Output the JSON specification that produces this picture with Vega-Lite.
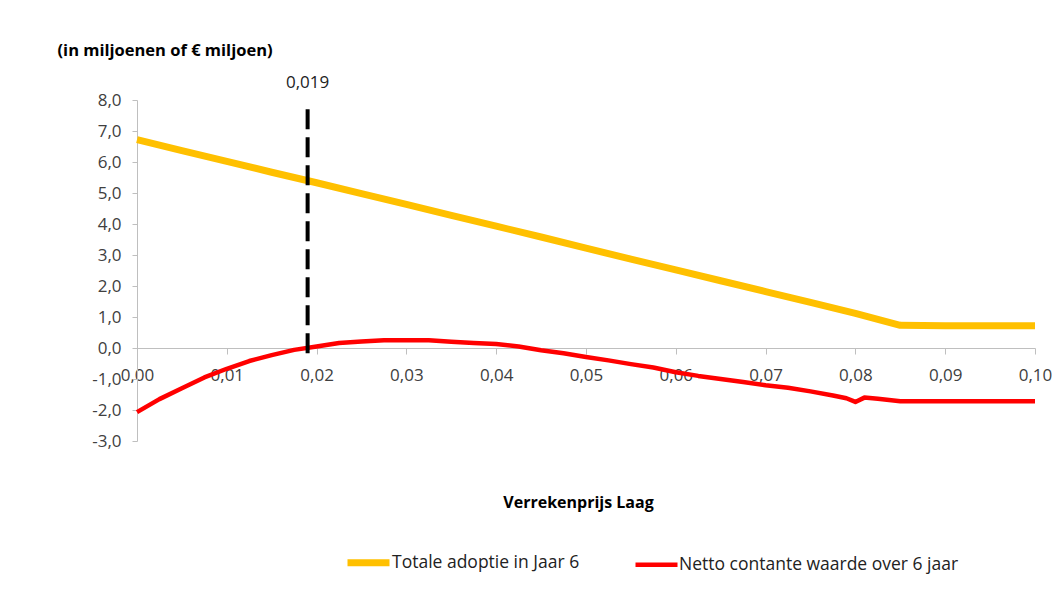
{
  "$schema": "https://vega.github.io/schema/vega-lite/v6.json",
  "width": 898,
  "height": 341,
  "autosize": "none",
  "padding": {"left": 137, "top": 100, "right": 26, "bottom": 155},
  "background": "white",
  "config": {
    "view": {"stroke": null},
    "font": "Open Sans",
    "axis": {"labelFont": "Open Sans", "labelFontSize": 17, "labelColor": "#404040", "domainColor": "#BFBFBF", "tickColor": "#BFBFBF", "grid": false}
  },
  "datasets": {
    "lines": [
      {"x": 0.0, "v": 6.72, "s": "Totale adoptie in Jaar 6"},
      {"x": 0.005, "v": 6.37, "s": "Totale adoptie in Jaar 6"},
      {"x": 0.01, "v": 6.02, "s": "Totale adoptie in Jaar 6"},
      {"x": 0.015, "v": 5.67, "s": "Totale adoptie in Jaar 6"},
      {"x": 0.02, "v": 5.33, "s": "Totale adoptie in Jaar 6"},
      {"x": 0.025, "v": 4.98, "s": "Totale adoptie in Jaar 6"},
      {"x": 0.03, "v": 4.63, "s": "Totale adoptie in Jaar 6"},
      {"x": 0.035, "v": 4.28, "s": "Totale adoptie in Jaar 6"},
      {"x": 0.04, "v": 3.93, "s": "Totale adoptie in Jaar 6"},
      {"x": 0.045, "v": 3.58, "s": "Totale adoptie in Jaar 6"},
      {"x": 0.05, "v": 3.22, "s": "Totale adoptie in Jaar 6"},
      {"x": 0.055, "v": 2.87, "s": "Totale adoptie in Jaar 6"},
      {"x": 0.06, "v": 2.52, "s": "Totale adoptie in Jaar 6"},
      {"x": 0.065, "v": 2.17, "s": "Totale adoptie in Jaar 6"},
      {"x": 0.07, "v": 1.82, "s": "Totale adoptie in Jaar 6"},
      {"x": 0.075, "v": 1.47, "s": "Totale adoptie in Jaar 6"},
      {"x": 0.08, "v": 1.12, "s": "Totale adoptie in Jaar 6"},
      {"x": 0.085, "v": 0.73, "s": "Totale adoptie in Jaar 6"},
      {"x": 0.09, "v": 0.72, "s": "Totale adoptie in Jaar 6"},
      {"x": 0.095, "v": 0.72, "s": "Totale adoptie in Jaar 6"},
      {"x": 0.1, "v": 0.72, "s": "Totale adoptie in Jaar 6"},
      {"x": 0.0, "v": -2.07, "s": "Netto contante waarde over 6 jaar"},
      {"x": 0.0025, "v": -1.65, "s": "Netto contante waarde over 6 jaar"},
      {"x": 0.005, "v": -1.3, "s": "Netto contante waarde over 6 jaar"},
      {"x": 0.0075, "v": -0.95, "s": "Netto contante waarde over 6 jaar"},
      {"x": 0.01, "v": -0.67, "s": "Netto contante waarde over 6 jaar"},
      {"x": 0.0125, "v": -0.42, "s": "Netto contante waarde over 6 jaar"},
      {"x": 0.015, "v": -0.23, "s": "Netto contante waarde over 6 jaar"},
      {"x": 0.0175, "v": -0.06, "s": "Netto contante waarde over 6 jaar"},
      {"x": 0.02, "v": 0.05, "s": "Netto contante waarde over 6 jaar"},
      {"x": 0.0225, "v": 0.16, "s": "Netto contante waarde over 6 jaar"},
      {"x": 0.025, "v": 0.21, "s": "Netto contante waarde over 6 jaar"},
      {"x": 0.0275, "v": 0.25, "s": "Netto contante waarde over 6 jaar"},
      {"x": 0.03, "v": 0.25, "s": "Netto contante waarde over 6 jaar"},
      {"x": 0.0325, "v": 0.25, "s": "Netto contante waarde over 6 jaar"},
      {"x": 0.035, "v": 0.2, "s": "Netto contante waarde over 6 jaar"},
      {"x": 0.0375, "v": 0.16, "s": "Netto contante waarde over 6 jaar"},
      {"x": 0.04, "v": 0.13, "s": "Netto contante waarde over 6 jaar"},
      {"x": 0.0425, "v": 0.05, "s": "Netto contante waarde over 6 jaar"},
      {"x": 0.045, "v": -0.07, "s": "Netto contante waarde over 6 jaar"},
      {"x": 0.0475, "v": -0.17, "s": "Netto contante waarde over 6 jaar"},
      {"x": 0.05, "v": -0.29, "s": "Netto contante waarde over 6 jaar"},
      {"x": 0.0525, "v": -0.4, "s": "Netto contante waarde over 6 jaar"},
      {"x": 0.055, "v": -0.52, "s": "Netto contante waarde over 6 jaar"},
      {"x": 0.0575, "v": -0.63, "s": "Netto contante waarde over 6 jaar"},
      {"x": 0.06, "v": -0.78, "s": "Netto contante waarde over 6 jaar"},
      {"x": 0.0625, "v": -0.9, "s": "Netto contante waarde over 6 jaar"},
      {"x": 0.065, "v": -1.0, "s": "Netto contante waarde over 6 jaar"},
      {"x": 0.0675, "v": -1.1, "s": "Netto contante waarde over 6 jaar"},
      {"x": 0.07, "v": -1.2, "s": "Netto contante waarde over 6 jaar"},
      {"x": 0.0725, "v": -1.28, "s": "Netto contante waarde over 6 jaar"},
      {"x": 0.075, "v": -1.4, "s": "Netto contante waarde over 6 jaar"},
      {"x": 0.0775, "v": -1.53, "s": "Netto contante waarde over 6 jaar"},
      {"x": 0.079, "v": -1.62, "s": "Netto contante waarde over 6 jaar"},
      {"x": 0.08, "v": -1.74, "s": "Netto contante waarde over 6 jaar"},
      {"x": 0.081, "v": -1.6, "s": "Netto contante waarde over 6 jaar"},
      {"x": 0.0825, "v": -1.64, "s": "Netto contante waarde over 6 jaar"},
      {"x": 0.085, "v": -1.72, "s": "Netto contante waarde over 6 jaar"},
      {"x": 0.09, "v": -1.72, "s": "Netto contante waarde over 6 jaar"},
      {"x": 0.095, "v": -1.72, "s": "Netto contante waarde over 6 jaar"},
      {"x": 0.1, "v": -1.72, "s": "Netto contante waarde over 6 jaar"}
    ],
    "marker": [{"x": 0.019, "v": 7.7, "v2": -0.4}],
    "markerLabel": [{"x": 0.019, "v": 8.55, "label": "0,019"}]
  },
  "encoding": {
    "x": {
      "field": "x", "type": "quantitative",
      "scale": {"domain": [0, 0.1], "nice": false},
      "axis": {
        "values": [0, 0.01, 0.02, 0.03, 0.04, 0.05, 0.06, 0.07, 0.08, 0.09, 0.1],
        "labelExpr": "replace(format(datum.value, '.2f'), '.', ',')",
        "offset": -93, "tickSize": 6, "labelPadding": 13, "labelFlush": false, "labelOverlap": false,
        "title": "Verrekenprijs Laag", "titleFont": "Open Sans", "titleFontSize": 16, "titleFontWeight": "bold", "titleColor": "#000000",
        "titleX": 441, "titleAlign": "center", "titleY": 146, "titleBaseline": "top"
      }
    },
    "y": {
      "field": "v", "type": "quantitative",
      "scale": {"domain": [-3, 8], "nice": false, "zero": false},
      "axis": {
        "values": [-3, -2, -1, 0, 1, 2, 3, 4, 5, 6, 7, 8],
        "labelExpr": "replace(replace(format(datum.value, '.1f'), '.', ','), '−', '-')",
        "tickSize": 5, "labelPadding": 11, "labelOverlap": false, "labelFlush": false, "labelBound": false,
        "title": "(in miljoenen of € miljoen)", "titleAngle": 0, "titleAlign": "left", "titleBaseline": "middle",
        "titleX": -80, "titleY": -50, "titleFont": "Open Sans", "titleFontSize": 16.5, "titleFontWeight": "bold", "titleColor": "#000000"
      }
    }
  },
  "layer": [
    {
      "data": {"name": "lines"},
      "mark": {"type": "line", "strokeCap": "butt", "strokeJoin": "round"},
      "encoding": {
        "color": {
          "field": "s", "type": "nominal",
          "scale": {"domain": ["Totale adoptie in Jaar 6", "Netto contante waarde over 6 jaar"], "range": ["#FFC000", "#FF0000"]},
          "legend": {
            "orient": "none", "direction": "horizontal", "legendX": 207, "legendY": 438,
            "title": null, "symbolType": "stroke", "symbolSize": 1764, "symbolStrokeWidth": 6,
            "labelFont": "Open Sans", "labelFontSize": 17.5, "labelColor": "#222222", "labelOffset": -1, "labelLimit": 400, "columnPadding": 46
          }
        },
        "strokeWidth": {
          "field": "s", "type": "nominal",
          "scale": {"domain": ["Totale adoptie in Jaar 6", "Netto contante waarde over 6 jaar"], "range": [7, 4.5]},
          "legend": null
        }
      }
    },
    {
      "data": {"name": "marker"},
      "mark": {"type": "rule", "color": "#000000", "strokeWidth": 4, "strokeDash": [20, 8]},
      "encoding": {
        "y2": {"field": "v2"}
      }
    },
    {
      "data": {"name": "markerLabel"},
      "mark": {"type": "text", "font": "Open Sans", "fontSize": 17, "color": "#222222"},
      "encoding": {
        "text": {"field": "label"}
      }
    }
  ]
}
